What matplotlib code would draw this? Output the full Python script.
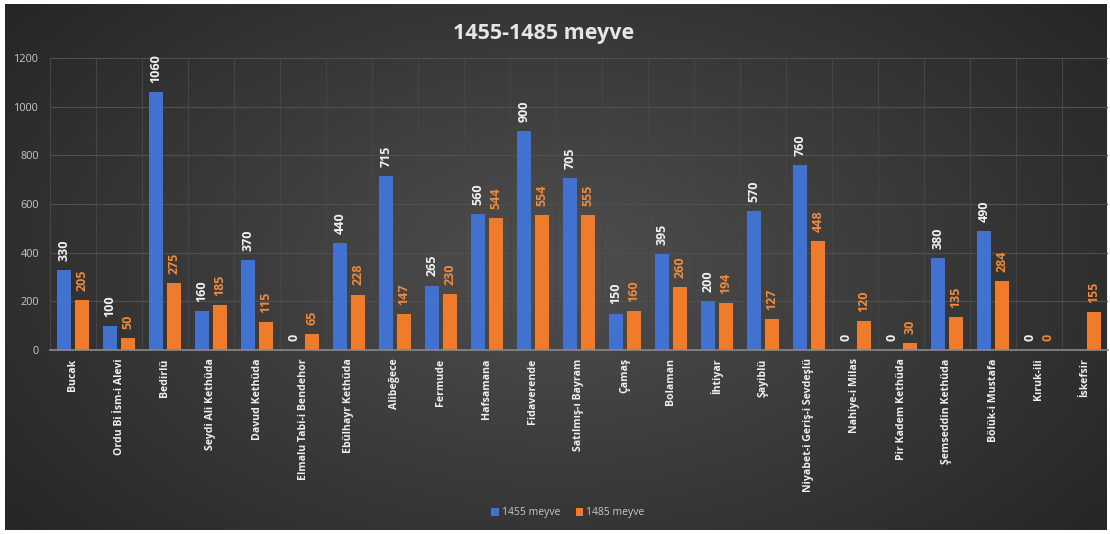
import numpy as np
import matplotlib
matplotlib.use("Agg")
import matplotlib.pyplot as plt

categories = ["Bucak", "Ordu Bi İsm-i Alevi", "Bedirlü", "Seydi Ali Kethüda", "Davud Kethüda",
              "Elmalu Tabi-i Bendehor", "Ebülhayr Kethüda", "Alibeğece", "Fermude", "Hafsamana",
              "Fidaverende", "Satılmış-ı Bayram", "Çamaş", "Bolaman", "İhtiyar", "Şayiblü",
              "Niyabet-i Geriş-i Sevdeşlü", "Nahiye-i Milas", "Pir Kadem Kethüda",
              "Şemseddin Kethüda", "Bölük-i Mustafa", "Kıruk-ili", "İskefsir"]
meyve_1455 = [330, 100, 1060, 160, 370, 0, 440, 715, 265, 560, 900, 705, 150, 395, 200, 570,
              760, 0, 0, 380, 490, 0, None]
meyve_1485 = [205, 50, 275, 185, 115, 65, 228, 147, 230, 544, 554, 555, 160, 260, 194, 127,
              448, 120, 30, 135, 284, 0, 155]
yticks = [0, 200, 400, 600, 800, 1000, 1200]
title = "1455-1485 meyve"
series_names = ["1455 meyve", "1485 meyve"]

plt.rcParams['font.family'] = ['Open Sans', 'DejaVu Sans']

W, H = 1110, 534
fig = plt.figure(figsize=(W / 100, H / 100), dpi=100)
fig.patch.set_facecolor("white")

# background gradient panel
bg = fig.add_axes([5 / W, 4 / H, (1107 - 5) / W, (530 - 4) / H])
bg.set_axis_off()
yy, xx = np.mgrid[0:1:300j, 0:1:600j]
d = np.sqrt(((xx - 0.5) / 0.75) ** 2 + ((yy - 0.5) / 0.95) ** 2)
val = 0.31 - 0.19 * np.clip(d, 0, 1.2)
img = np.dstack([val, val, val])
bg.imshow(img, aspect="auto", extent=[0, 1, 0, 1], origin="lower")

ax = fig.add_axes([50 / W, (H - 350) / H, (1108 - 50) / W, (350 - 58) / H])
ax.patch.set_alpha(0)

x = np.arange(len(categories))
bw = 0.30
off = 0.195
blue = "#4172cf"
orange = "#f07b2b"

v1 = np.array([np.nan if v is None else v for v in meyve_1455], dtype=float)
v2 = np.array(meyve_1485, dtype=float)

b1 = ax.bar(x - off, v1, bw, color=blue, label=series_names[0], zorder=3)
b2 = ax.bar(x + off, v2, bw, color=orange, label=series_names[1], zorder=3)

for xi, v in zip(x, v1):
    if np.isnan(v):
        continue
    ax.annotate(f"{int(v)}", (xi - off, v), xytext=(0, 6.5), textcoords="offset points",
                rotation=90, ha="center", va="bottom", fontsize=9, fontweight="bold",
                color="#f2f2f2", zorder=4)
for xi, v in zip(x, v2):
    ax.annotate(f"{int(v)}", (xi + off, v), xytext=(0, 6.5), textcoords="offset points",
                rotation=90, ha="center", va="bottom", fontsize=9, fontweight="bold",
                color="#f08a3c", zorder=4)

ax.set_xlim(-0.5, len(categories) - 0.5)
ax.set_ylim(0, 1200)
ax.set_yticks(yticks)
ax.set_yticklabels([str(t) for t in yticks], fontsize=7.8, color="#c8c8c8")
ax.set_xticks(x)
ax.set_xticklabels(categories, rotation=90, fontsize=7.6, fontweight="bold", color="#f0f0f0")
ax.tick_params(axis="both", length=0, pad=6)
ax.tick_params(axis="y", pad=8)

# gridlines
ax.set_axisbelow(True)
ax.grid(axis="y", color="#505050", linewidth=0.8, zorder=0)
ax.set_xticks(np.arange(-0.5, len(categories), 1), minor=True)
ax.grid(axis="x", which="minor", color="#454545", linewidth=0.8, zorder=0)
ax.tick_params(axis="x", which="minor", length=0)
for s in ["top", "right", "left"]:
    ax.spines[s].set_visible(False)
ax.spines["bottom"].set_color("#8a8a8a")
ax.spines["bottom"].set_linewidth(1.2)
ax.spines["bottom"].set_zorder(5)

fig.text(544 / W, 1 - 33 / H, title, ha="center", va="center", fontsize=15.5,
         fontweight="bold", color="#e6e6e6")

leg = fig.legend(handles=[b1, b2], labels=series_names, loc="center",
                 bbox_to_anchor=(568 / W, 1 - 513 / H), ncol=2, frameon=False,
                 fontsize=7.5, handlelength=0.7, handleheight=0.7, handletextpad=0.3,
                 columnspacing=1.5)
for t in leg.get_texts():
    t.set_color("#c8c8c8")

fig.savefig("out.png", dpi=100, facecolor=fig.get_facecolor())
